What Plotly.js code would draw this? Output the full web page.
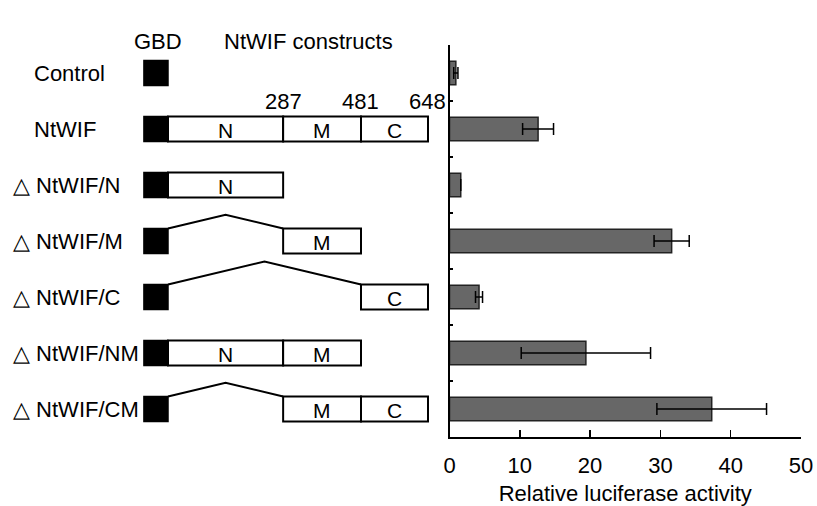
<!DOCTYPE html>
<html>
<head>
<meta charset="utf-8">
<script src="https://cdn.plot.ly/plotly-3.0.1.min.js"></script>
<style>html,body{margin:0;padding:0;background:#fff;}#chart{width:817px;height:506px;}</style>
</head>
<body>
<div id="chart"></div>
<script>
// ---- data ----
var constructs = ["Control", "NtWIF", "△NtWIF/N", "△NtWIF/M", "△NtWIF/C", "△NtWIF/NM", "△NtWIF/CM"];
var activity   = [0.9, 12.6, 1.6, 31.6, 4.2, 19.4, 37.3];
var activityErr = [0.3, 2.2, 0.0, 2.5, 0.5, 9.2, 7.8];
// domains of NtWIF (residue boundaries)
var domainNames = ["N", "M", "C"];
var domainStart = [0, 287, 481];
var domainEnd   = [287, 481, 648];
var boundaryLabels = ["287", "481", "648"];
// which domains each construct carries
var constructDomains = [[], ["N", "M", "C"], ["N"], ["M"], ["C"], ["N", "M"], ["M", "C"]];
var gbdLength = 60;

// ---- layout constants ----
var W = 817, H = 506;
var FONT = "Liberation Sans, Arial, sans-serif";
var FS = 22;
var halfH = 0.222;          // half box height in row units
var pxPerRow = 392 / 7;
var peakPxPerRes = 0.048;   // connector peak height (px) per deleted residue

var shapes = [], annotations = [];

constructs.forEach(function (name, i) {
  shapes.push({type: "rect", xref: "x2", yref: "y", x0: -gbdLength, x1: 0, y0: i - halfH, y1: i + halfH,
    fillcolor: "#000", line: {color: "#000", width: 1.5}});
  if (name === "Control") return;
  var doms = constructDomains[i];
  var firstStart = null;
  doms.forEach(function (d) {
    var k = domainNames.indexOf(d);
    var s = domainStart[k], e = domainEnd[k];
    if (firstStart === null) firstStart = s;
    shapes.push({type: "rect", xref: "x2", yref: "y", x0: s, x1: e, y0: i - halfH, y1: i + halfH,
      fillcolor: "#fff", line: {color: "#000", width: 2}});
    annotations.push({xref: "x2", yref: "y", x: (s + e) / 2, y: i, text: d, showarrow: false,
      font: {family: FONT, size: 21, color: "#000"}, yshift: -1});
  });
  if (firstStart > 0) {
    var top = i - halfH;
    var peak = top - (firstStart * peakPxPerRes) / pxPerRow;
    shapes.push({type: "path", xref: "x2", yref: "y",
      path: "M0," + top + " L" + (firstStart / 2) + "," + peak + " L" + firstStart + "," + top,
      line: {color: "#000", width: 2}});
  }
});

// boundary numbers above NtWIF
for (var k = 0; k < 3; k++) {
  annotations.push({xref: "x2", yref: "y", x: domainEnd[k], y: 0.5, text: boundaryLabels[k], showarrow: false,
    font: {family: FONT, size: FS, color: "#000"}});
}
// row labels
constructs.forEach(function (name, i) {
  var isDelta = name.charAt(0) === "△";
  annotations.push({xref: "paper", yref: "y", x: (isDelta ? 11 : 32) / W, y: i, xanchor: "left",
    text: isDelta ? "△ " + name.slice(1) : name, showarrow: false,
    font: {family: FONT, size: FS, color: "#000"}});
});
// headers
annotations.push({xref: "x2", yref: "paper", x: -gbdLength / 2 + 5, y: (437 - 27) / 392, text: "GBD", showarrow: false,
  font: {family: FONT, size: FS, color: "#000"}});
annotations.push({xref: "paper", yref: "paper", x: 308 / W, y: (437 - 27) / 392, text: "NtWIF constructs", showarrow: false,
  font: {family: FONT, size: FS, color: "#000"}});

var pxPerRes = 0.4012, zeroPx = 168, d2 = 0.54;
var x2range = [(0 - zeroPx) / pxPerRes, (d2 * W - zeroPx) / pxPerRes];

var trace = {
  type: "bar", orientation: "h", y: constructs, x: activity,
  width: 0.42,
  marker: {color: "#676767", line: {color: "#222", width: 1.5}},
  error_x: {type: "data", array: activityErr, visible: true, color: "#000", thickness: 1.5, width: 6},
  hoverinfo: "x+y"
};

var layout = {
  width: W, height: H,
  margin: {l: 0, r: 0, t: 45, b: 69},
  paper_bgcolor: "#fff", plot_bgcolor: "rgba(0,0,0,0)",
  showlegend: false,
  font: {family: FONT, size: FS, color: "#000"},
  xaxis: {domain: [449.5 / W, 801 / W], range: [0, 50], tickvals: [0, 10, 20, 30, 40, 50],
    ticks: "inside", ticklen: 7, tickwidth: 1.5, tickcolor: "#000", ticklabelstandoff: 8,
    showline: true, linecolor: "#000", linewidth: 1.5, showgrid: false, zeroline: false,
    tickfont: {family: FONT, size: FS, color: "#000"},
    title: {text: "Relative luciferase activity", font: {family: FONT, size: FS, color: "#000"}, standoff: 12}},
  xaxis2: {domain: [0, d2], range: x2range, visible: false, anchor: "y", showgrid: false, zeroline: false},
  yaxis: {type: "category", categoryorder: "array", categoryarray: constructs, range: [6.5, -0.5],
    showticklabels: false, ticks: "inside", tickson: "boundaries", ticklen: 3, tickwidth: 1.5, tickcolor: "#000",
    showline: true, linecolor: "#000", linewidth: 1.5, showgrid: false, zeroline: false},
  shapes: shapes,
  annotations: annotations
};

Plotly.newPlot("chart", [trace], layout, {displayModeBar: false, staticPlot: true});
</script>
</body>
</html>
